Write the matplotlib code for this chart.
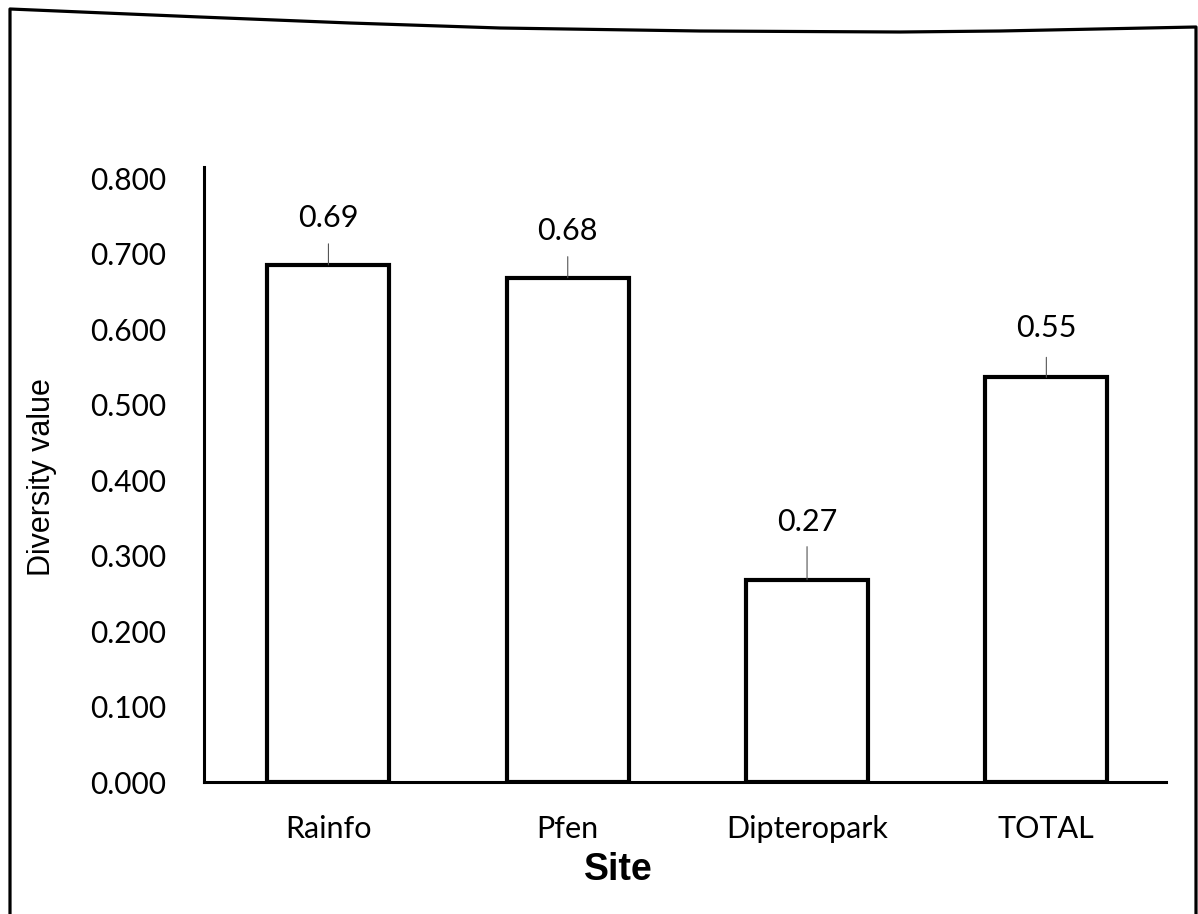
import matplotlib
matplotlib.use("Agg")
import matplotlib.pyplot as plt
from matplotlib.lines import Line2D

sites = ["Rainfo", "Pfen", "Dipteropark", "TOTAL"]
diversity = [0.685, 0.668, 0.268, 0.536]
labels = ["0.69", "0.68", "0.27", "0.55"]
yticks = [0.0, 0.1, 0.2, 0.3, 0.4, 0.5, 0.6, 0.7, 0.8]

W, H = 1198, 914
fig = plt.figure(figsize=(W / 100, H / 100), dpi=100)
fig.patch.set_facecolor("white")

left, right, bottom, top = 204, 1166, 782, 167
ax = fig.add_axes([left / W, (H - bottom) / H, (right - left) / W, (bottom - top) / H])

x = list(range(len(sites)))
ax.bar(x, diversity, width=0.51, facecolor="white", edgecolor="black", linewidth=3.0, zorder=3)

ax.set_xlim(-0.52, 3.5)
ax.set_ylim(0, 0.8146)
ax.set_yticks(yticks)
ax.set_yticklabels([f"{v:.3f}" for v in yticks], family="Lato", fontsize=21.5)
ax.set_xticks(x)
ax.set_xticklabels(sites, family="Lato", fontsize=22)
ax.tick_params(axis="both", length=0)
ax.tick_params(axis="y", pad=27)
ax.tick_params(axis="x", pad=24)

for s in ["top", "right"]:
    ax.spines[s].set_visible(False)
for s in ["left", "bottom"]:
    ax.spines[s].set_linewidth(2.2)
    ax.spines[s].set_color("black")

label_offsets = [47, 47, 58, 49]
line_lengths = [21, 21, 33, 20]
for xi, v, lab, off, ll in zip(x, diversity, labels, label_offsets, line_lengths):
    ax.annotate("", xy=(xi, v), xytext=(0, ll), textcoords="offset pixels",
                arrowprops=dict(arrowstyle="-", lw=0.8, color="#555555", shrinkA=0, shrinkB=0))
    ax.annotate(lab, xy=(xi, v), xytext=(0, off), textcoords="offset pixels",
                ha="center", va="center", family="Lato", fontsize=22)

fig.text(42 / W, (H - 477) / H, "Diversity value", rotation=90, ha="center", va="center",
         family="Liberation Sans", fontsize=22)
fig.text(618 / W, (H - 870) / H, "Site", ha="center", va="center",
         family="Liberation Sans", fontsize=27, fontweight="bold")

# scanned page frame
frame_x = [10, 10, 200, 350, 500, 700, 900, 1000, 1196, 1196]
frame_y = [914, 9, 17, 23, 28, 31, 32, 31, 27, 914]
fig.add_artist(Line2D([px / W for px in frame_x], [(H - py) / H for py in frame_y],
                      transform=fig.transFigure, color="black", lw=2.3, solid_joinstyle="round"))

fig.savefig("out.png", dpi=100, facecolor="white")
